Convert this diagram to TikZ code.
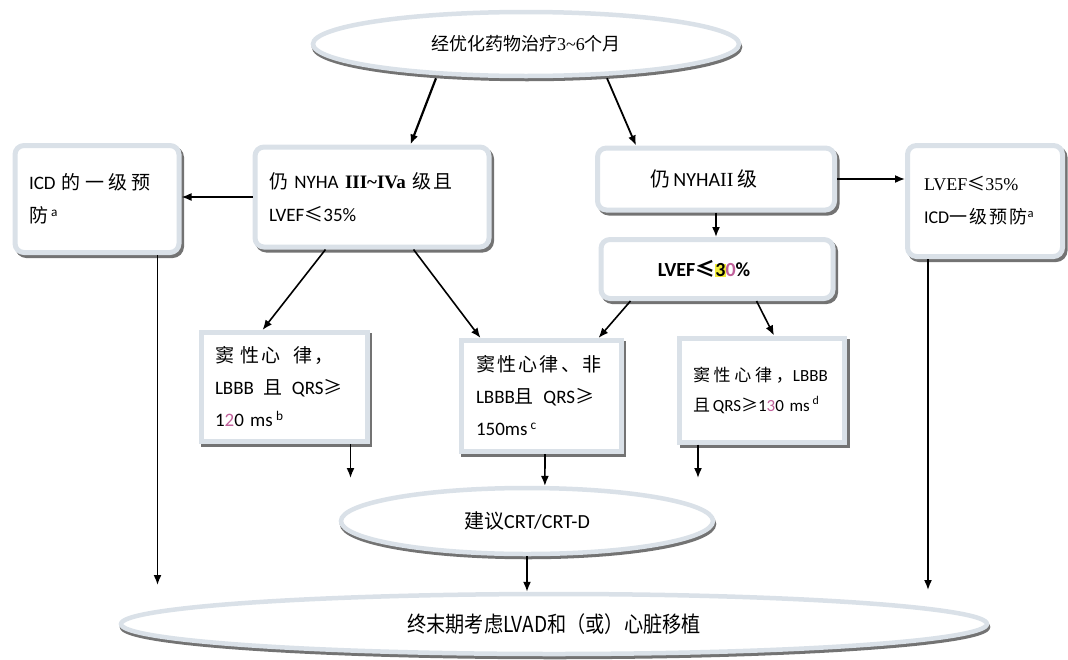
\documentclass[tikz,border=0pt]{standalone}
\usepackage{fontspec}
\setmainfont{Carlito}
\newfontfamily\zh{Noto Sans CJK SC}
\newfontfamily\zhw[LetterSpace=12]{Noto Sans CJK SC}
\newfontfamily\zhs[LetterSpace=22]{Noto Sans CJK SC}
\newfontfamily\zhc[FakeStretch=0.87]{Noto Sans CJK SC}
\newfontfamily\tms{Liberation Serif}
\usetikzlibrary{shapes.geometric,shadows,arrows.meta}
\definecolor{rimGray}{HTML}{DAE1E8}
\definecolor{numPink}{HTML}{C0609A}
\definecolor{markYellow}{HTML}{F2EC3A}
\tikzstyle{rimShadow}=[general shadow = {draw = black!55, fill = black!55, line width = 5pt, shadow xshift = 2.5pt, shadow yshift = -3pt}]
\tikzstyle{roundBox}=[shape = rectangle, rounded corners = 9pt, draw = rimGray, line width = 5pt, fill = white, rimShadow, font = \fontsize{19}{33}\selectfont]
\tikzstyle{squareBox}=[shape = rectangle, draw = rimGray, line width = 5pt, fill = white, rimShadow, font = \fontsize{19}{32}\selectfont]
\tikzstyle{ovalStyle}=[shape = ellipse, draw = rimGray, line width = 4.5pt, fill = white, general shadow = {draw = black!55, fill = black!55, line width = 4.5pt, shadow xshift = 1pt, shadow yshift = -3pt}, font = \fontsize{18}{22}\selectfont]
\tikzstyle{arrowStyle}=[-{Latex[length=10pt, width=8pt]}, line width = 1.6pt]

\begin{document}
\begin{tikzpicture}[x = 1pt, y = -1pt]
\useasboundingbox (0,0) rectangle (1068,659);
\node[ovalStyle, minimum width = 426pt, minimum height = 64pt] (v0) at (526,44) {{\zh 经优化药物治疗}{\tms 3\textasciitilde 6}{\zh 个月}};
\node[roundBox, minimum width = 234pt, minimum height = 100pt, text width = 206pt, align = left] (v1) at (372,197) {{\zh 仍}\ NYHA\ {\tms\bfseries III\textasciitilde IVa}\ {\zhw 级且}\\LVEF{\zh ≤}35\%};
\node[roundBox, minimum width = 164pt, minimum height = 107pt, text width = 136pt, align = left] (v2) at (97,199) {ICD\ {\zhs 的一级预}\\{\zh 防}\,\textsuperscript{a}};
\node[roundBox, minimum width = 237pt, minimum height = 62pt, align = center, font = \fontsize{20}{24}\selectfont] (v3) at (716,179) {{\zh 仍}\,NYHA{\tms II}\ {\zh 级}\hspace{24pt}};
\node[roundBox, minimum width = 232pt, minimum height = 59pt, align = center, font = \fontsize{20}{24}\selectfont] (v4) at (717,269) {\bfseries LVEF{\zh ≤}{\fboxsep=0pt\colorbox{markYellow}{3}}{\color{numPink}0}\%\hspace{26pt}};
\node[roundBox, minimum width = 155pt, minimum height = 111pt, text width = 122pt, align = left, font = \fontsize{18}{33}\selectfont] (v5) at (985,201) {{\tms LVEF}{\zh ≤}{\tms 35\%}\\ICD{\zhw 一级预防}\textsuperscript{a}};
\node[squareBox, minimum width = 166pt, minimum height = 109pt, text width = 138pt, align = left] (v6) at (284,387) {{\zhw 窦\ 性心\ \ 律，}\\LBBB\ \,{\zh 且}\ \,QRS{\zh ≥}\\1{\color{numPink}2}0\ ms\,\textsuperscript{b}};
\node[squareBox, minimum width = 160pt, minimum height = 111pt, text width = 130pt, align = left] (v7) at (541,396) {{\zhw 窦性心律、非}\\LBBB{\zh 且}\ \,QRS{\zh ≥}\\150ms\,\textsuperscript{c}};
\node[squareBox, minimum width = 165pt, minimum height = 104pt, text width = 138pt, align = left, font = \fontsize{17}{30}\selectfont] (v8) at (762,390) {{\zhs 窦性心律，}LBBB\\{\zh 且}\,QRS{\zh ≥}1{\color{numPink}3}0\ ms\,\textsuperscript{d}};
\node[ovalStyle, minimum width = 372pt, minimum height = 66pt, font = \fontsize{20}{24}\selectfont] (v9) at (527,521) {{\zh 建议}CRT/CRT-D};
\node[ovalStyle, minimum width = 866pt, minimum height = 60pt, font = \fontsize{22}{26}\selectfont] (v10) at (554,624) {\zhc 终末期考虑LVAD和（或）心脏移植};
% free ends
\coordinate (p0) at (350.5,478);
\coordinate (p1) at (698,478);
\coordinate (p2) at (157.5,585);
\coordinate (p3) at (928,590);
\draw[arrowStyle, line width = 2.2pt] ([xshift=-90pt]v0.south) -- ([xshift=158pt]v1.north west);
\draw[arrowStyle, line width = 1.8pt] ([xshift=81pt]v0.south) -- ([xshift=41pt]v3.north west);
\draw[arrowStyle] (v1.west) -- (v1.west -| v2.east);
\draw[arrowStyle] (v3.east) -- (v3.east -| v5.west);
\draw[arrowStyle] (v3.south) -- (v3.south |- v4.north);
\draw[arrowStyle] ([xshift=73pt]v1.south west) -- ([xshift=64pt]v6.north west);
\draw[arrowStyle] ([xshift=161pt]v1.south west) -- ([xshift=22pt]v7.north west);
\draw[arrowStyle] ([xshift=32pt]v4.south west) -- ([xshift=140pt]v7.north west);
\draw[arrowStyle] ([xshift=158pt]v4.south west) -- ([xshift=97pt]v8.north west);
\draw[arrowStyle] ([xshift=152pt]v6.south west) -- (p0);
\draw[arrowStyle] ([xshift=4pt]v7.south) -- (v9.63.4);
\draw[arrowStyle] ([xshift=21pt]v8.south west) -- (p1);
\draw[arrowStyle] (v9.south) -- (v9.south |- v10.north);
\draw[arrowStyle] ([xshift=145pt]v2.south west) -- (p2);
\draw[arrowStyle] ([xshift=23pt]v5.south west) -- (p3);
\end{tikzpicture}
\end{document}
